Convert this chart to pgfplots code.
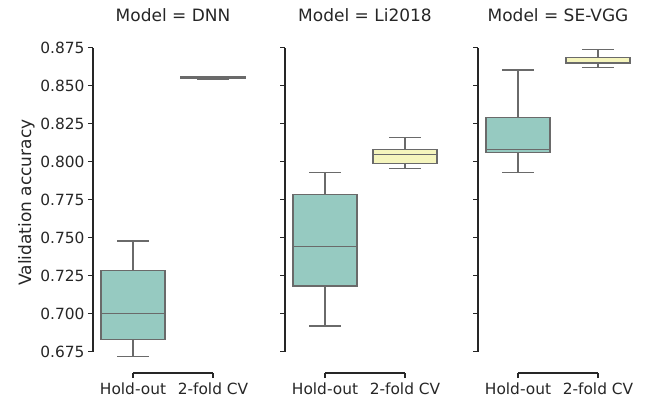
\documentclass[border=0pt]{standalone}
\usepackage{pgfplots}
\pgfplotsset{compat=1.18}
\usepackage{fontspec}
\setmainfont{DejaVu Sans}
\definecolor{boxA}{HTML}{96CAC1}
\definecolor{boxB}{HTML}{F5F5BD}
\definecolor{edge}{HTML}{6A6A6A}
\definecolor{ink}{HTML}{262626}

\pgfplotsset{
  facet/.style={
    scale only axis, width=160bp, height=325.3bp,
    xmin=-0.5, xmax=1.5, ymin=0.66099, ymax=0.875,
    axis x line*=bottom, axis y line*=left,
    axis line style={draw=none},
    xtick={0,1}, xticklabels={Hold-out,2-fold CV},
    ytick={0.675,0.700,0.725,0.750,0.775,0.800,0.825,0.850,0.875},
    tick align=outside, major tick length=5bp,
    every tick/.style={ink, line width=1.1bp},
    tick label style={font=\fontsize{15.4bp}{18bp}\selectfont, text=ink},
    xticklabel style={yshift=-1.5bp},
    yticklabel style={/pgf/number format/fixed, /pgf/number format/fixed zerofill,
      /pgf/number format/precision=3, /pgf/number format/assume math mode=true},
    clip=false,
    title style={font=\fontsize{17bp}{20bp}\selectfont, text=ink, at={(0.5,1)}, anchor=base, yshift=20.4bp},
    anchor=south west,
  },
  bx/.style={draw=edge, line width=1.1bp, mark=none},
}
\newcommand{\spines}{%
  \draw[ink, line width=1.1bp] (axis cs:-0.5,0.675) -- (axis cs:-0.5,0.875);
  \draw[ink, line width=1.1bp] (axis cs:0,0.66099) -- (axis cs:1,0.66099);
}
% box at position 0: {lower whisker}{q1}{median}{q3}{upper whisker}
\newcommand{\bxA}[5]{%
  \addplot[bx] coordinates {(0,#1) (0,#2)};
  \addplot[bx] coordinates {(0,#4) (0,#5)};
  \addplot[bx] coordinates {(-0.2,#1) (0.2,#1)};
  \addplot[bx] coordinates {(-0.2,#5) (0.2,#5)};
  \addplot[bx, fill=boxA] coordinates {(-0.4,#2) (0.4,#2) (0.4,#4) (-0.4,#4)} -- cycle;
  \addplot[bx] coordinates {(-0.4,#3) (0.4,#3)};
}
\newcommand{\bxB}[5]{%
  \addplot[bx] coordinates {(1,#1) (1,#2)};
  \addplot[bx] coordinates {(1,#4) (1,#5)};
  \addplot[bx] coordinates {(0.8,#1) (1.2,#1)};
  \addplot[bx] coordinates {(0.8,#5) (1.2,#5)};
  \addplot[bx, fill=boxB] coordinates {(0.6,#2) (1.4,#2) (1.4,#4) (0.6,#4)} -- cycle;
  \addplot[bx] coordinates {(0.6,#3) (1.4,#3)};
}

\begin{document}
\begin{tikzpicture}
\path[use as bounding box] (0,0) rectangle (645bp,399bp);

% Panel 1: DNN
\begin{axis}[facet, at={(93bp,26bp)}, title={Model = DNN}]
\spines
\bxA{0.6717}{0.6832}{0.7000}{0.7283}{0.7478}
\bxB{0.8542}{0.8545}{0.8551}{0.8557}{0.8560}
\end{axis}

% Panel 2: Li2018
\begin{axis}[facet, at={(285bp,26bp)}, title={Model = Li2018}, yticklabels={}]
\spines
\bxA{0.6919}{0.7182}{0.7441}{0.7785}{0.7926}
\bxB{0.7954}{0.7991}{0.8046}{0.8079}{0.8158}
\end{axis}

% Panel 3: SE-VGG
\begin{axis}[facet, at={(478bp,26bp)}, title={Model = SE-VGG}, yticklabels={}]
\spines
\bxA{0.7928}{0.8062}{0.8081}{0.8292}{0.8603}
\bxB{0.8621}{0.8645}{0.8650}{0.8687}{0.8741}
\end{axis}

\node[rotate=90, anchor=base, text=ink, font=\fontsize{17bp}{20bp}\selectfont] at (31bp,196.5bp) {Validation accuracy};
\end{tikzpicture}
\end{document}
